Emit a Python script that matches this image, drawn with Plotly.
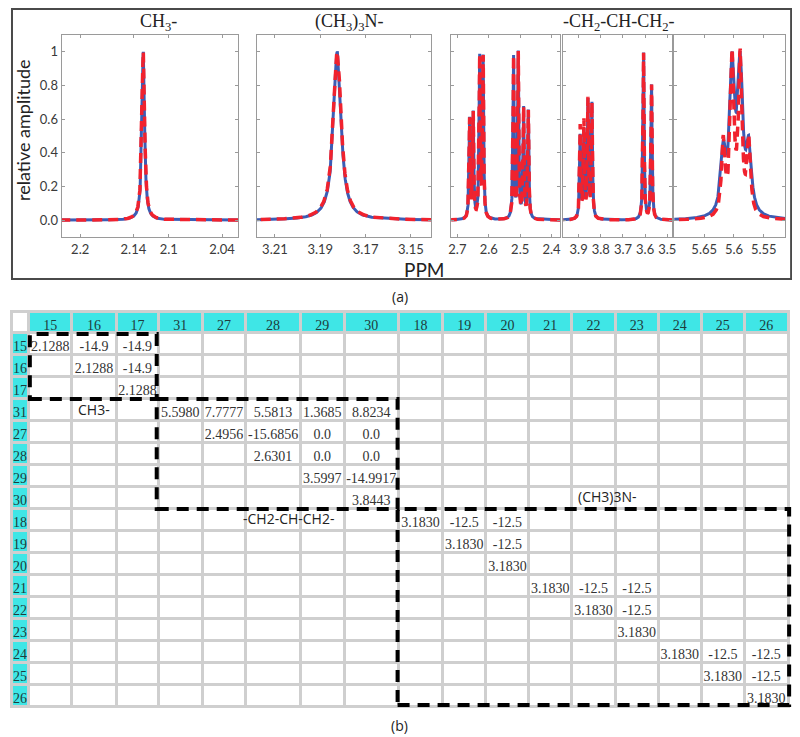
import numpy as np
import plotly.graph_objects as go

W, H = 800, 737
OFF = 8  # page body margin in the browser

# ---------------- spectra: peak tables (ppm, relative amplitude, half-width) ----------------
ch3_ppm = [2.1288]
ch3_amp_sim = [1.0]
ch3_amp_exp = [1.0]
ch3_hw = [0.0017, 0.0018]          # blue, red

tma_ppm = [3.1825]
tma_amp_sim = [1.0]
tma_amp_exp = [1.0]
tma_hw = [0.0020, 0.0021]

ch2a_ppm = [2.661, 2.6495, 2.629, 2.618, 2.521, 2.506, 2.489, 2.474]
ch2a_amp_sim = [0.59, 0.62, 0.95, 0.95, 0.96, 0.98, 0.65, 0.64]
ch2a_amp_exp = [0.59, 0.62, 0.95, 0.95, 0.96, 0.98, 0.65, 0.64]
ch2a_hw = [0.0020, 0.0019]

ch2b_ppm = [3.893, 3.876, 3.858, 3.840, 3.607, 3.571]
ch2b_amp_sim = [0.49, 0.51, 0.69, 0.68, 0.99, 0.80]
ch2b_amp_exp = [0.55, 0.57, 0.70, 0.68, 0.99, 0.80]
ch2b_hw = [0.0030, 0.0028]

ch_ppm = [5.618, 5.603, 5.5895, 5.575]
ch_amp_sim = [0.36, 0.85, 0.85, 0.38]
ch_amp_exp = [0.44, 0.93, 0.93, 0.44]
ch_hw = [0.0050, 0.0035]

# axis ranges (reversed ppm) and tick labels
p_ranges = [[2.221, 2.022], [3.218, 3.141], [2.720, 2.3726], [3.970, 3.478], [5.7005, 5.514]]
p_ticks = [[2.2, 2.14, 2.1, 2.04], [3.21, 3.19, 3.17, 3.15], [2.7, 2.6, 2.5, 2.4],
           [3.9, 3.8, 3.7, 3.6, 3.5], [5.65, 5.6, 5.55]]
p_ticktext = [["2.2", "2.14", "2.1", "2.04"], ["3.21", "3.19", "3.17", "3.15"],
              ["2.7", "2.6", "2.5", "2.4"], ["3.9", "3.8", "3.7", "3.6", "3.5"],
              ["5.65", "5.6", "5.55"]]
y_ticks = [0, 0.2, 0.4, 0.6, 0.8, 1.0]
y_ticktext = ["0.0", "0.2", "0.4", "0.6", "0.8", "1"]

# ---------------- table data ----------------
ids = ["15", "16", "17", "31", "27", "28", "29", "30",
       "18", "19", "20", "21", "22", "23", "24", "25", "26"]
entries = {
    ("15", "15"): "2.1288", ("15", "16"): "-14.9", ("15", "17"): "-14.9",
    ("16", "16"): "2.1288", ("16", "17"): "-14.9",
    ("17", "17"): "2.1288",
    ("31", "31"): "5.5980", ("31", "27"): "7.7777", ("31", "28"): "5.5813",
    ("31", "29"): "1.3685", ("31", "30"): "8.8234",
    ("27", "27"): "2.4956", ("27", "28"): "-15.6856", ("27", "29"): "0.0", ("27", "30"): "0.0",
    ("28", "28"): "2.6301", ("28", "29"): "0.0", ("28", "30"): "0.0",
    ("29", "29"): "3.5997", ("29", "30"): "-14.9917",
    ("30", "30"): "3.8443",
    ("18", "18"): "3.1830", ("18", "19"): "-12.5", ("18", "20"): "-12.5",
    ("19", "19"): "3.1830", ("19", "20"): "-12.5",
    ("20", "20"): "3.1830",
    ("21", "21"): "3.1830", ("21", "22"): "-12.5", ("21", "23"): "-12.5",
    ("22", "22"): "3.1830", ("22", "23"): "-12.5",
    ("23", "23"): "3.1830",
    ("24", "24"): "3.1830", ("24", "25"): "-12.5", ("24", "26"): "-12.5",
    ("25", "25"): "3.1830", ("25", "26"): "-12.5",
    ("26", "26"): "3.1830",
}
group_labels = ["CH3-", "-CH2-CH-CH2-", "(CH3)3N-"]

# ---------------- helpers (screen px -> paper) ----------------
def px(x):
    return (x - OFF) / W

def py(y):
    return 1 - (y - OFF) / H

def lorentz(x, ppm, amp, hw):
    y = np.zeros_like(x)
    for p, a in zip(ppm, amp):
        y += a / (1 + ((x - p) / hw) ** 2)
    return y

BLUE = "#3c5cb4"
RED = "#f0222e"

fig = go.Figure()

panels = [
    (ch3_ppm, ch3_amp_sim, ch3_amp_exp, ch3_hw),
    (tma_ppm, tma_amp_sim, tma_amp_exp, tma_hw),
    (ch2a_ppm, ch2a_amp_sim, ch2a_amp_exp, ch2a_hw),
    (ch2b_ppm, ch2b_amp_sim, ch2b_amp_exp, ch2b_hw),
    (ch_ppm, ch_amp_sim, ch_amp_exp, ch_hw),
]
xdom_px = [(59, 237), (256, 432), (452, 562), (565, 675), (677, 789)]
ydom = [py(237), py(35)]

for i, (ppm, a_sim, a_exp, hw) in enumerate(panels):
    k = "" if i == 0 else str(i + 1)
    r = p_ranges[i]
    x = np.linspace(r[1], r[0], 2500)
    fig.add_trace(go.Scatter(x=x, y=lorentz(x, ppm, a_sim, hw[0]), mode="lines",
                             line=dict(color=BLUE, width=3), xaxis="x" + k, yaxis="y" + k,
                             hoverinfo="skip"))
    fig.add_trace(go.Scatter(x=x, y=lorentz(x, ppm, a_exp, hw[1]), mode="lines",
                             line=dict(color=RED, width=3.5, dash="10px,6px"),
                             xaxis="x" + k, yaxis="y" + k, hoverinfo="skip"))
    axfont = dict(family="Lato", size=13, color="#3a3a3a")
    fig.update_layout(**{
        "xaxis" + k: dict(domain=[px(xdom_px[i][0]), px(xdom_px[i][1])], range=r,
                          anchor="y" + k, tickvals=p_ticks[i], ticktext=p_ticktext[i],
                          showgrid=False, zeroline=False, showline=True, linecolor="#9a9a9a",
                          linewidth=1, mirror="ticks", ticks="inside", ticklen=3,
                          tickcolor="#9a9a9a", tickfont=axfont),
        "yaxis" + k: dict(domain=ydom, range=[-0.1, 1.1], anchor="x" + k,
                          tickvals=y_ticks, ticktext=y_ticktext, showticklabels=(i == 0),
                          showgrid=False, zeroline=False, showline=True, linecolor="#9a9a9a",
                          linewidth=1, mirror="ticks", ticks="inside", ticklen=3,
                          tickcolor="#9a9a9a", tickfont=axfont),
    })

# ---------------- table ----------------
CYAN = "#3fe6e6"
header_vals = [""] + ids
col_vals = [ids] + [[entries.get((r, c), "") for r in ids] for c in ids]
fill_cols = [[CYAN] * len(ids)] + [["white"] * len(ids) for _ in ids]
font_cols = ["#1e3c3c"] + ["#333333"] * len(ids)
col_w = [18, 43.3, 45, 42.7, 44, 44, 55.3, 44, 55, 44.4, 44, 43.3, 43.3, 44, 43.4, 43.3, 43.7, 44]

fig.add_trace(go.Table(
    domain=dict(x=[0, px(792)], y=[py(712), py(311)]),
    columnwidth=col_w,
    header=dict(values=header_vals, height=21,
                fill_color=["white"] + [CYAN] * len(ids),
                line=dict(color="#cfcfcf", width=3),
                font=dict(family="Liberation Serif", size=14, color="#1e3c3c"),
                align="center"),
    cells=dict(values=col_vals, height=22, fill_color=fill_cols,
               line=dict(color="#cfcfcf", width=3),
               font=dict(family="Liberation Serif", size=14, color=font_cols),
               align="center"),
))

# dashed group boxes
def dbox(x0, y0, x1, y1):
    fig.add_shape(type="rect", xref="paper", yref="paper", x0=px(x0), x1=px(x1),
                  y0=py(y1), y1=py(y0), layer="above",
                  line=dict(color="black", width=4, dash="12px,8px"))

dbox(27, 334, 155, 399)
dbox(155, 399, 398, 509)
dbox(398, 509, 793, 705)

# top panel frame
fig.add_shape(type="rect", xref="paper", yref="paper", x0=px(9), x1=px(795),
              y0=py(279), y1=py(9), line=dict(color="#4a4a4a", width=2))

# ---------------- annotations ----------------
def ann(text, x, y, size, family, color="#222222", angle=0, yanchor="middle"):
    fig.add_annotation(text=text, x=px(x), y=py(y), xref="paper", yref="paper",
                       showarrow=False, textangle=angle, xanchor="center", yanchor=yanchor,
                       font=dict(family=family, size=size, color=color))

ann("CH<sub>3</sub>-", 157, 9, 18, "Liberation Serif", yanchor="top")
ann("(CH<sub>3</sub>)<sub>3</sub>N-", 349, 9, 18, "Liberation Serif", yanchor="top")
ann("-CH<sub>2</sub>-CH-CH<sub>2</sub>-", 621, 9, 18, "Liberation Serif", yanchor="top")
ann("relative amplitude", 20, 130, 18, "Lato", angle=-90)
ann("PPM", 425, 270, 19, "Lato")
ann("(a)", 400, 296, 14, "Open Sans")
ann("(b)", 400, 725, 14, "Open Sans")
ann(group_labels[0], 92, 410, 14, "Open Sans")
ann(group_labels[1], 288, 519, 14, "Open Sans")
ann(group_labels[2], 609, 496, 14, "Open Sans")

fig.update_layout(width=W, height=H, margin=dict(l=0, r=0, t=0, b=0),
                  paper_bgcolor="white", plot_bgcolor="white", showlegend=False)

fig.write_html("out.html")
